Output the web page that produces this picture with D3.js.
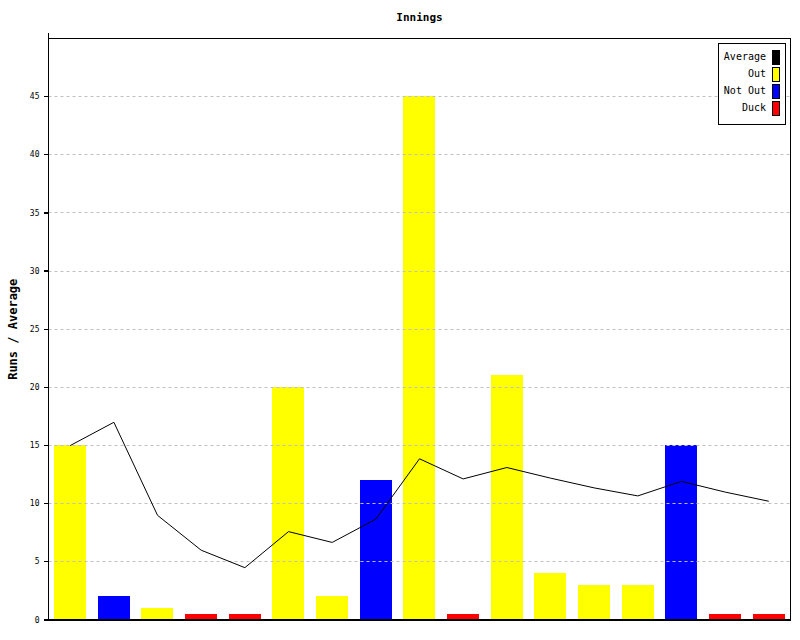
<!DOCTYPE html>
<html>
<head>
<meta charset="utf-8">
<script src="https://cdn.jsdelivr.net/npm/d3@7"></script>
<style>
  body { margin: 0; background: #fff; }
  svg { display: block; }
  text { font-family: "DejaVu Sans Mono", monospace; }
</style>
</head>
<body>
<svg id="chart" width="800" height="640"></svg>
<script>
const innings = d3.range(1, 18).map(String);
const runs = [15, 2, 1, 0.5, 0.5, 20, 2, 12, 45, 0.5, 21, 4, 3, 3, 15, 0.5, 0.5];
const status = ["Out", "Not Out", "Out", "Duck", "Duck", "Out", "Out", "Not Out", "Out", "Duck", "Out", "Out", "Out", "Out", "Not Out", "Duck", "Duck"];
const average = [15, 17, 9, 6, 4.5, 7.6, 6.67, 8.67, 13.86, 12.13, 13.11, 12.2, 11.36, 10.67, 11.92, 11.0, 10.21];
const yTicks = [0, 5, 10, 15, 20, 25, 30, 35, 40, 45];
const legendLabels = ["Average", "Out", "Not Out", "Duck"];
const legendColors = ["#000000", "#ffff00", "#0000ff", "#ff0000"];

const svg = d3.select("#chart");
const mLeft = 48.5, mRight = 790.5, mTop = 38.5, mBottom = 620;

const x = d3.scaleBand().domain(innings).range([mLeft, mRight]).paddingInner(0.265).paddingOuter(0.13);
const y = d3.scaleLinear().domain([0, 50]).range([mBottom, mTop]);
const color = d3.scaleOrdinal().domain(legendLabels).range(legendColors);

// bars
svg.append("g").selectAll("rect").data(runs).join("rect")
  .attr("x", (d, i) => Math.round(x(innings[i])))
  .attr("width", Math.round(x.bandwidth()))
  .attr("y", d => Math.floor(y(d)))
  .attr("height", d => mBottom - Math.floor(y(d)))
  .attr("fill", (d, i) => color(status[i]))
  .attr("shape-rendering", "crispEdges");

// gridlines (drawn over the bars, as in the reference)
svg.append("g").selectAll("line").data(yTicks.filter(d => d > 0)).join("line")
  .attr("x1", mLeft).attr("x2", mRight)
  .attr("y1", d => Math.floor(y(d)) + 0.5).attr("y2", d => Math.floor(y(d)) + 0.5)
  .attr("stroke", "#c0c0c0").attr("stroke-dasharray", "3,3");

// average line
const line = d3.line()
  .x((d, i) => x(innings[i]) + x.bandwidth() / 2)
  .y(d => y(d));
svg.append("path").datum(average)
  .attr("d", line).attr("fill", "none").attr("stroke", "#000").attr("stroke-width", 1);

// frame
svg.append("rect").attr("x", mLeft).attr("y", mTop).attr("width", mRight - mLeft).attr("height", mBottom - mTop)
  .attr("fill", "none").attr("stroke", "#000").attr("stroke-width", 1.3).attr("shape-rendering", "crispEdges");

// y axis
const yAxis = d3.axisLeft(y).tickValues(yTicks).tickSize(5).tickPadding(4);
const gy = svg.append("g").attr("transform", `translate(${mLeft},-0.5)`).call(yAxis);
gy.select(".domain").attr("d", `M0,${mTop - 5}V${mBottom}`).attr("stroke-width", 1.3).attr("shape-rendering", "crispEdges");
gy.selectAll(".tick line").attr("stroke-width", 1.3).attr("shape-rendering", "crispEdges");
gy.selectAll(".tick text").attr("font-family", "DejaVu Sans Mono, monospace").attr("font-size", 8).attr("fill", "#000");

// title
svg.append("text").attr("x", (mLeft + mRight) / 2).attr("y", 21).attr("text-anchor", "middle")
  .attr("font-size", 11).attr("font-weight", "bold").text("Innings");

// y label
svg.append("text").attr("transform", `translate(17,${(mTop + mBottom) / 2}) rotate(-90)`)
  .attr("text-anchor", "middle").attr("font-size", 12).attr("font-weight", "bold").text("Runs / Average");

// legend
const lg = svg.append("g");
lg.append("rect").attr("x", 718.5).attr("y", 43.5).attr("width", 67).attr("height", 81)
  .attr("fill", "#fff").attr("stroke", "#000").attr("shape-rendering", "crispEdges");
const rows = lg.selectAll("g.row").data(legendLabels).join("g").attr("class", "row")
  .attr("transform", (d, i) => `translate(0,${50 + i * 17})`);
rows.append("rect").attr("x", 772.5).attr("y", 0.5).attr("width", 7).attr("height", 14)
  .attr("fill", d => color(d)).attr("stroke", "#000").attr("shape-rendering", "crispEdges");
rows.append("text").attr("x", 766).attr("y", 10).attr("text-anchor", "end")
  .attr("font-size", 10).text(d => d);
</script>
</body>
</html>
